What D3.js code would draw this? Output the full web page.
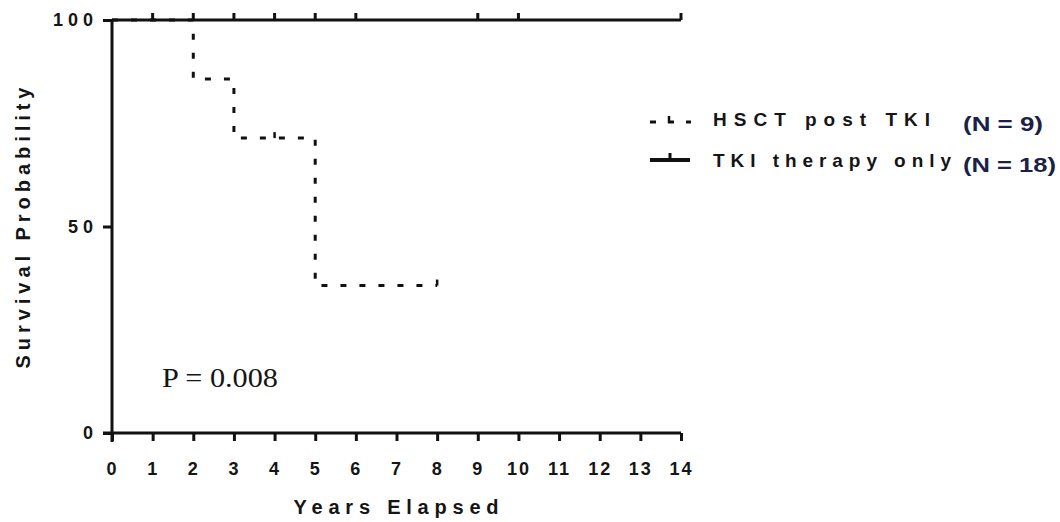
<!DOCTYPE html>
<html>
  <head>
    <meta charset="utf-8">
    <script src="https://d3js.org/d3.v7.min.js"></script>
    <style>
      body { margin: 0; background: #fff; }
      svg text { font-family: "Liberation Sans", Arial, sans-serif; font-weight: bold; fill: #151515; }
    </style>
  </head>
  <body>
    <div id="container"></div>
    <script>
      // DATA
      const xTicks = [0,1,2,3,4,5,6,7,8,9,10,11,12,13,14];
      const yTicks = [0, 50, 100];

      // TKI therapy only (N = 18): no events
      const tkiTimes = [0, 14];
      const tkiSurv = [100, 100];
      const tkiCensor = [1, 2, 3, 4, 5, 6, 9, 10, 14];

      // HSCT post TKI (N = 9)
      const hsctTimes = [0, 2, 3, 5, 8];
      const hsctSurv = [100, 85.7, 71.4, 35.7, 35.7];
      const hsctCensor = [4, 8];
      const hsctCensorSurv = [71.4, 35.7];

      const legendLabels = ["HSCT post TKI", "TKI therapy only"];
      const legendN = ["(N = 9)", "(N = 18)"];

      // DIMENSIONS
      const W = 1060, H = 522;
      const plot = { left: 112, right: 681, top: 20, bottom: 433 };

      const svg = d3.select("#container").append("svg")
        .attr("width", W).attr("height", H);

      const x = d3.scaleLinear().domain([0, 14]).range([plot.left, plot.right]);
      const y = d3.scaleLinear().domain([0, 100]).range([plot.bottom, plot.top]);

      // X AXIS
      const xAxis = svg.append("g")
        .attr("transform", "translate(0," + plot.bottom + ")")
        .call(d3.axisBottom(x).tickValues(xTicks).tickSize(8).tickSizeOuter(0).tickPadding(21));
      xAxis.select(".domain").attr("stroke", "#111").attr("stroke-width", 3)
        .attr("d", "M" + (plot.left - 9) + ",0H" + plot.right);
      xAxis.selectAll(".tick line").attr("stroke", "#111").attr("stroke-width", 3);
      xAxis.selectAll(".tick text")
        .style("font-size", "18px").style("letter-spacing", "2px");

      // Y AXIS
      const yAxis = svg.append("g")
        .attr("transform", "translate(" + plot.left + ",0)")
        .call(d3.axisLeft(y).tickValues(yTicks).tickSize(9).tickSizeOuter(0).tickPadding(5));
      yAxis.select(".domain").attr("stroke", "#111").attr("stroke-width", 3)
        .attr("d", "M0," + plot.top + "V" + (plot.bottom + 9));
      yAxis.selectAll(".tick line").attr("stroke", "#111").attr("stroke-width", 3);
      yAxis.selectAll(".tick text")
        .style("font-size", "18px").style("letter-spacing", "5px");

      // AXIS TITLES
      svg.append("text")
        .attr("x", 396).attr("y", 514)
        .attr("text-anchor", "middle")
        .attr("textLength", 205).attr("lengthAdjust", "spacing")
        .style("font-size", "20px")
        .text("Years Elapsed");

      svg.append("text")
        .attr("transform", "translate(30,228) rotate(-90)")
        .attr("text-anchor", "middle")
        .attr("textLength", 281).attr("lengthAdjust", "spacing")
        .style("font-size", "20px")
        .text("Survival Probability");

      // CURVES
      const step = d3.line()
        .x(d => x(d[0])).y(d => y(d[1]))
        .curve(d3.curveStepAfter);

      svg.append("path")
        .datum(hsctTimes.map((t, i) => [t, hsctSurv[i]]))
        .attr("d", step)
        .attr("fill", "none")
        .attr("stroke", "#111").attr("stroke-width", 3)
        .attr("stroke-dasharray", "6,13");

      svg.selectAll(".hsctCensor")
        .data(hsctCensor)
        .enter().append("line")
        .attr("class", "hsctCensor")
        .attr("x1", d => x(d)).attr("x2", d => x(d))
        .attr("y1", (d, i) => y(hsctCensorSurv[i]))
        .attr("y2", (d, i) => y(hsctCensorSurv[i]) - 6)
        .attr("stroke", "#111").attr("stroke-width", 2.5);

      svg.append("path")
        .datum(tkiTimes.map((t, i) => [t, tkiSurv[i]]))
        .attr("d", step)
        .attr("fill", "none")
        .attr("stroke", "#111").attr("stroke-width", 3);

      svg.selectAll(".tkiCensor")
        .data(tkiCensor)
        .enter().append("line")
        .attr("class", "tkiCensor")
        .attr("x1", d => x(d)).attr("x2", d => x(d))
        .attr("y1", y(100)).attr("y2", y(100) - 7)
        .attr("stroke", "#111").attr("stroke-width", 3);

      // P VALUE
      svg.append("text")
        .attr("x", 162).attr("y", 387)
        .attr("textLength", 116).attr("lengthAdjust", "spacingAndGlyphs")
        .style("font-family", "'Liberation Serif', 'Times New Roman', serif")
        .style("font-weight", "normal")
        .style("font-size", "27px")
        .text("P = 0.008");

      // LEGEND
      const legend = svg.append("g");
      const ly = [122, 160];

      legend.append("line")
        .attr("x1", 650).attr("x2", 691).attr("y1", ly[0]).attr("y2", ly[0])
        .attr("stroke", "#111").attr("stroke-width", 3)
        .attr("stroke-dasharray", "6,12");
      legend.append("line")
        .attr("x1", 669).attr("x2", 669).attr("y1", ly[0] + 1).attr("y2", ly[0] - 6)
        .attr("stroke", "#111").attr("stroke-width", 2.5);

      legend.append("line")
        .attr("x1", 650).attr("x2", 690).attr("y1", ly[1]).attr("y2", ly[1])
        .attr("stroke", "#111").attr("stroke-width", 4);
      legend.append("line")
        .attr("x1", 670).attr("x2", 670).attr("y1", ly[1]).attr("y2", ly[1] - 7)
        .attr("stroke", "#111").attr("stroke-width", 3);

      const labLen = [217, 238];
      legend.selectAll(".lab")
        .data(legendLabels)
        .enter().append("text")
        .attr("class", "lab")
        .attr("x", 713).attr("y", (d, i) => [126, 167][i])
        .attr("textLength", (d, i) => labLen[i]).attr("lengthAdjust", "spacing")
        .style("font-size", "19px")
        .text(d => d);

      const nLen = [80, 93];
      legend.selectAll(".nlab")
        .data(legendN)
        .enter().append("text")
        .attr("class", "nlab")
        .attr("x", 963).attr("y", (d, i) => [131, 172][i])
        .attr("textLength", (d, i) => nLen[i]).attr("lengthAdjust", "spacingAndGlyphs")
        .style("font-size", "20px")
        .style("fill", "#1c1f4a")
        .text(d => d);
    </script>
  </body>
</html>
